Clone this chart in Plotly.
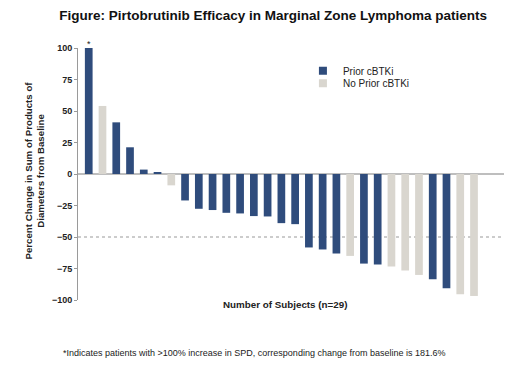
import plotly.graph_objects as go

subjects = list(range(1, 30))
pct_change = [100, 54, 41, 21.2, 3.5, 0.8, -9, -21, -27.6, -28.6, -30.8, -31.3, -33.4, -33.7,
              -39, -39.8, -58.3, -59.9, -63.1, -65, -71.1, -71.9, -73.5, -76.6, -80.1,
              -83.5, -90.7, -95.5, -96.8]
group = ["Prior", "No", "Prior", "Prior", "Prior", "Prior", "No", "Prior", "Prior", "Prior",
         "Prior", "Prior", "Prior", "Prior", "Prior", "Prior", "Prior", "Prior", "Prior", "No",
         "Prior", "Prior", "No", "No", "No", "Prior", "Prior", "No", "No"]
y_ticks = [-100, -75, -50, -25, 0, 25, 50, 75, 100]

DARK = "#2F4C7C"
LIGHT = "#D9D6CF"
FONT = "Liberation Sans, Arial, sans-serif"

colors = [DARK if g == "Prior" else LIGHT for g in group]

fig = go.Figure()
fig.add_trace(go.Bar(x=subjects, y=pct_change, marker=dict(color=colors, line=dict(width=0)),
                     width=0.56, showlegend=False))
# legend proxies
fig.add_trace(go.Scatter(x=[None], y=[None], mode="markers", name="Prior cBTKi", legend="legend",
                         marker=dict(symbol="square", size=8, color=DARK)))
fig.add_trace(go.Scatter(x=[None], y=[None], mode="markers", name="No Prior cBTKi", legend="legend2",
                         marker=dict(symbol="square", size=8, color=LIGHT)))

fig.add_hline(y=0, line=dict(color="#A8A8A8", width=1.5), layer="below")
fig.add_hline(y=-50, line=dict(color="#999999", width=1, dash="dot"), layer="below")

fig.add_annotation(x=subjects[0], y=pct_change[0], text="*", showarrow=False, yshift=4,
                   font=dict(family=FONT, size=9, color="#222"), xref="x", yref="y")

legend_style = dict(xanchor="left", yanchor="middle", bgcolor="rgba(0,0,0,0)",
                    font=dict(family=FONT, size=10, color="#222"), itemwidth=30)

fig.update_layout(
    width=520, height=377,
    margin=dict(l=70, r=24, t=40, b=85),
    paper_bgcolor="white", plot_bgcolor="white",
    font=dict(family=FONT, color="#222"),
    title=dict(text="<b>Figure: Pirtobrutinib Efficacy in Marginal Zone Lymphoma patients</b>",
               x=0.51, xanchor="center", y=0.981, yanchor="middle", yref="container",
               font=dict(family=FONT, size=13.5, color="#111")),
    xaxis=dict(range=[0.22, 31.18], showticklabels=False, ticks="", showgrid=False,
               zeroline=False, showline=False),
    yaxis=dict(range=[-100, 100], tickvals=y_ticks, showgrid=False, zeroline=False,
               showline=True, linecolor="#9A9A9A", linewidth=1, ticks="outside", ticklen=3,
               tickcolor="#9A9A9A", tickfont=dict(family=FONT, size=9, color="#222", weight="bold")),
    legend=dict(x=0.528, y=0.91, **legend_style),
    legend2=dict(x=0.528, y=0.86, **legend_style),
    bargap=0.44,
)

fig.add_annotation(text="<b>Percent Change in Sum of Products of<br>Diameters from Baseline</b>",
                   xref="paper", yref="paper", x=-0.102, y=0.512, textangle=-90, showarrow=False,
                   font=dict(family=FONT, size=9.7, color="#222"), xanchor="center", yanchor="middle")
fig.add_annotation(text="<b>Number of Subjects (n=29)</b>", xref="paper", yref="paper",
                   x=0.486, y=-0.016, showarrow=False, yanchor="middle",
                   font=dict(family=FONT, size=9.8, color="#222"))
fig.add_annotation(text="*Indicates patients with >100% increase in SPD, corresponding change from baseline is 181.6%",
                   xref="paper", yref="paper", x=0.413, y=-0.21, showarrow=False, yanchor="middle",
                   font=dict(family=FONT, size=9, color="#222"))

fig.write_html("out.html")
